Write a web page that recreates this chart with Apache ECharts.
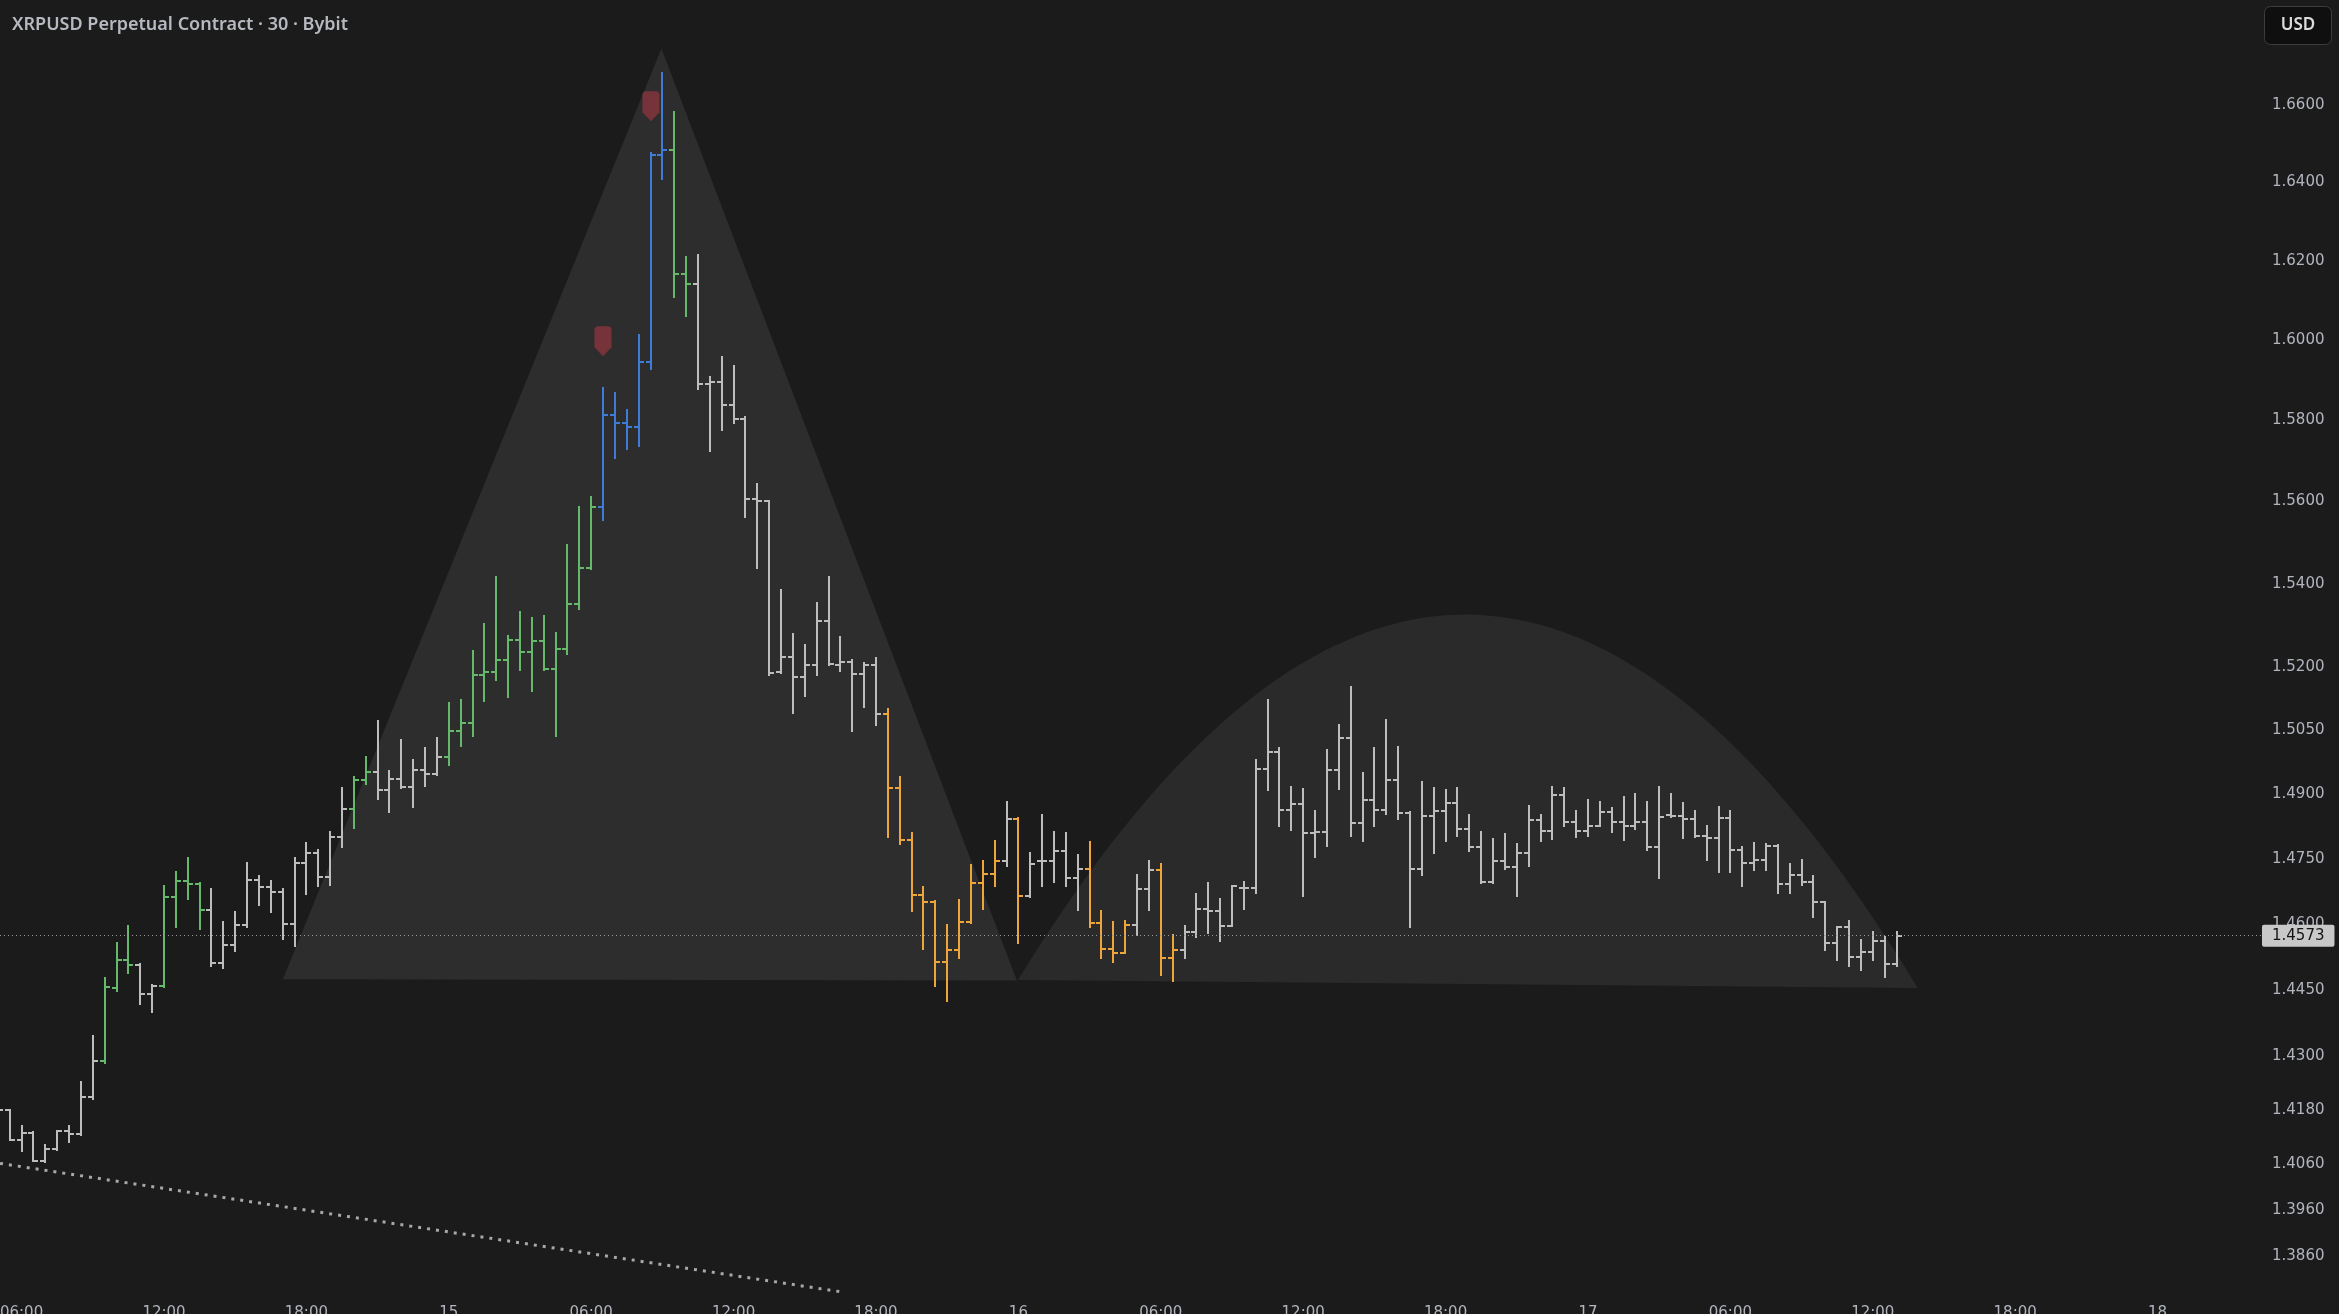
<!DOCTYPE html>
<html>
<head>
<meta charset="utf-8">
<script src="https://cdn.jsdelivr.net/npm/echarts@6/dist/echarts.min.js"></script>
<style>
html,body{margin:0;padding:0;background:#1b1b1b;}
#chart{width:2339px;height:1314px;}
</style>
</head>
<body>
<div id="chart"></div>
<script>
// ---- 30-minute bars, bar index = half-hours since 14th 00:00 ----
const firstBarIndex = 10;
const openPrices = [
1.4158,1.4180,1.4114,1.4130,1.4068,1.4093,1.4134,1.4127,1.4209,1.4290,
1.4454,1.4518,1.4506,1.4441,1.4459,1.4661,1.4699,1.4692,1.4632,1.4510,
1.4552,1.4598,1.4701,1.4684,1.4674,1.4599,1.4740,1.4763,1.4707,1.4801,
1.4865,1.4933,1.4953,1.4911,1.4935,1.4918,1.4957,1.4948,1.4988,1.5049,
1.5067,1.5181,1.5188,1.5217,1.5265,1.5235,1.5263,1.5195,1.5243,1.5351,
1.5438,1.5586,1.5813,1.5792,1.5783,1.5946,1.6471,1.6484,1.6166,1.6140,
1.5890,1.5896,1.5838,1.5802,1.5605,1.5600,1.5189,1.5224,1.5176,1.5205,
1.5310,1.5205,1.5211,1.5184,1.5205,1.5088,1.4915,1.4793,1.4667,1.4651,
1.4514,1.4540,1.4605,1.4694,1.4714,1.4745,1.4842,1.4663,1.4745,1.4745,
1.4768,1.4705,1.4726,1.4603,1.4542,1.4534,1.4598,1.4680,1.4723,1.4523,
1.4541,1.4581,1.4634,1.4630,1.4596,1.4683,1.4683,1.4958,1.4998,1.4863,
1.4877,1.4809,1.4811,1.4956,1.5031,1.4834,1.4886,1.4863,1.4933,1.4856,
1.4726,1.4849,1.4861,1.4879,1.4818,1.4777,1.4696,1.4744,1.4730,1.4763,
1.4839,1.4814,1.4898,1.4836,1.4815,1.4826,1.4858,1.4836,1.4826,1.4835,
1.4777,1.4852,1.4850,1.4842,1.4803,1.4798,1.4845,1.4770,1.4740,1.4746,
1.4780,1.4692,1.4713,1.4697,1.4650,1.4557,1.4594,1.4525,1.4535,1.4560,
1.4509];
const highPrices = [
1.4189,1.4181,1.4145,1.4132,1.4103,1.4134,1.4145,1.4243,1.4346,1.4476,
1.4556,1.4595,1.4509,1.4461,1.4686,1.4719,1.4751,1.4694,1.4680,1.4605,
1.4627,1.4740,1.4710,1.4699,1.4680,1.4751,1.4786,1.4770,1.4813,1.4914,
1.4941,1.4987,1.5073,1.4955,1.5027,1.4980,1.5008,1.5033,1.5115,1.5122,
1.5239,1.5303,1.5416,1.5274,1.5332,1.5318,1.5322,1.5281,1.5494,1.5586,
1.5612,1.5879,1.5867,1.5825,1.6013,1.6475,1.6684,1.6581,1.6209,1.6215,
1.5907,1.5957,1.5935,1.5809,1.5642,1.5602,1.5385,1.5280,1.5253,1.5354,
1.5416,1.5271,1.5217,1.5210,1.5222,1.5101,1.4940,1.4809,1.4685,1.4652,
1.4598,1.4655,1.4736,1.4745,1.4791,1.4881,1.4844,1.4763,1.4852,1.4812,
1.4809,1.4759,1.4788,1.4630,1.4604,1.4607,1.4713,1.4745,1.4737,1.4575,
1.4595,1.4669,1.4694,1.4657,1.4688,1.4696,1.4980,1.5122,1.5008,1.4918,
1.4912,1.4861,1.5004,1.5063,1.5152,1.4949,1.5008,1.5075,1.5010,1.4858,
1.4929,1.4914,1.4910,1.4914,1.4852,1.4812,1.4796,1.4807,1.4784,1.4873,
1.4852,1.4916,1.4914,1.4861,1.4887,1.4881,1.4869,1.4893,1.4901,1.4881,
1.4916,1.4901,1.4879,1.4861,1.4825,1.4870,1.4861,1.4777,1.4786,1.4783,
1.4781,1.4738,1.4747,1.4711,1.4651,1.4594,1.4607,1.4563,1.4581,1.4571,
1.4582];
const lowPrices = [
1.4140,1.4114,1.4090,1.4068,1.4066,1.4092,1.4110,1.4125,1.4204,1.4286,
1.4448,1.4489,1.4417,1.4399,1.4457,1.4594,1.4657,1.4588,1.4503,1.4499,
1.4539,1.4594,1.4643,1.4628,1.4565,1.4550,1.4668,1.4686,1.4690,1.4778,
1.4821,1.4924,1.4888,1.4859,1.4914,1.4871,1.4919,1.4945,1.4969,1.5014,
1.5037,1.5120,1.5170,1.5130,1.5193,1.5144,1.5193,1.5037,1.5231,1.5339,
1.5435,1.5555,1.5706,1.5728,1.5736,1.5927,1.6408,1.6107,1.6060,1.5877,
1.5725,1.5776,1.5794,1.5563,1.5439,1.5182,1.5187,1.5091,1.5131,1.5182,
1.5205,1.5190,1.5049,1.5106,1.5062,1.4801,1.4783,1.4629,1.4542,1.4458,
1.4425,1.4522,1.4603,1.4634,1.4687,1.4733,1.4556,1.4661,1.4687,1.4697,
1.4687,1.4631,1.4594,1.4522,1.4514,1.4533,1.4575,1.4632,1.4484,1.4469,
1.4523,1.4570,1.4580,1.4562,1.4596,1.4635,1.4672,1.4910,1.4825,1.4817,
1.4665,1.4755,1.4780,1.4912,1.4803,1.4790,1.4827,1.4854,1.4842,1.4594,
1.4713,1.4763,1.4791,1.4803,1.4769,1.4694,1.4695,1.4727,1.4665,1.4733,
1.4791,1.4796,1.4827,1.4801,1.4803,1.4825,1.4813,1.4794,1.4820,1.4770,
1.4706,1.4848,1.4799,1.4801,1.4746,1.4720,1.4720,1.4686,1.4724,1.4723,
1.4672,1.4672,1.4690,1.4617,1.4541,1.4518,1.4503,1.4494,1.4518,1.4480,
1.4505];
const closePrices = [
1.4180,1.4114,1.4130,1.4068,1.4093,1.4134,1.4127,1.4209,1.4290,1.4457,
1.4518,1.4506,1.4441,1.4459,1.4661,1.4699,1.4692,1.4632,1.4510,1.4552,
1.4598,1.4701,1.4684,1.4674,1.4599,1.4740,1.4763,1.4707,1.4801,1.4865,
1.4933,1.4953,1.4911,1.4935,1.4918,1.4957,1.4948,1.4988,1.5049,1.5067,
1.5181,1.5188,1.5217,1.5265,1.5235,1.5263,1.5195,1.5243,1.5351,1.5438,
1.5587,1.5813,1.5792,1.5783,1.5946,1.6471,1.6484,1.6166,1.6140,1.5890,
1.5896,1.5838,1.5802,1.5605,1.5600,1.5187,1.5224,1.5176,1.5205,1.5310,
1.5208,1.5211,1.5184,1.5205,1.5088,1.4915,1.4793,1.4667,1.4651,1.4514,
1.4540,1.4605,1.4694,1.4714,1.4745,1.4842,1.4663,1.4737,1.4745,1.4768,
1.4705,1.4726,1.4603,1.4542,1.4534,1.4598,1.4680,1.4723,1.4523,1.4541,
1.4581,1.4634,1.4630,1.4596,1.4686,1.4683,1.4958,1.4998,1.4863,1.4877,
1.4809,1.4811,1.4956,1.5031,1.4834,1.4886,1.4863,1.4933,1.4856,1.4726,
1.4849,1.4861,1.4879,1.4818,1.4777,1.4696,1.4744,1.4730,1.4763,1.4839,
1.4814,1.4898,1.4836,1.4815,1.4826,1.4858,1.4836,1.4826,1.4835,1.4777,
1.4848,1.4850,1.4842,1.4803,1.4798,1.4845,1.4770,1.4740,1.4746,1.4780,
1.4692,1.4713,1.4697,1.4650,1.4557,1.4594,1.4525,1.4535,1.4560,1.4509,
1.4573];
// bar colour state: w = neutral, g = green, b = blue, o = orange
const barState = (
'wwwwwwwwwggg' + 'wwgggg' + 'wwwwwwwwwwww' + 'gg' + 'wwwwww' + 'ggggggggggggg' +
'bbbbbb' + 'gg' + 'wwwwwwwwwwwwwwww' + 'oooooooooo' + 'w' + 'o' + 'wwwww' + 'oooo' +
'ww' + 'oo' + 'wwwwwwwwwwwwwwwwwwwwwwwwwwwwwwwwwwwwwwwwwwwwwwwwwwwwwwwwwwwwwwwwwwwwwwwwww' + 'o' + 'w' + 'oooo' + 'w'
).split('');
const signalBars = [61, 65];
const lastPrice = 1.4573;

// drawings (bar index, price)
const triangleDrawing = [[34.02, 1.4474], [65.92, 1.6748], [95.87, 1.4471]];
const curveDrawing = [[95.96, 1.4472], [133.87, 1.6240], [171.79, 1.4454]]; // start, control, end
const trendLine = [[10.18, 1.4062], [81.2, 1.3781]];

// axis ticks
const priceTicks = [1.386, 1.396, 1.406, 1.418, 1.430, 1.445, 1.460, 1.475, 1.490, 1.505, 1.520, 1.540, 1.560, 1.580, 1.600, 1.620, 1.640, 1.660];
const timeTicks = [12, 24, 36, 48, 60, 72, 84, 96, 108, 120, 132, 144, 156, 168, 180, 192];
const timeTickLabels = ['06:00','12:00','18:00','15','06:00','12:00','18:00','16','06:00','12:00','18:00','17','06:00','12:00','18:00','18'];

const palette = { w: '#bdbdbd', g: '#66b86b', b: '#3f7bd8', o: '#eea53c' };
const FONT = '"DejaVu Sans", sans-serif';

const bars = openPrices.map((o, k) => [firstBarIndex + k, o, highPrices[k], lowPrices[k], closePrices[k]]);
const signals = signalBars.map(i => [i, highPrices[i - firstBarIndex]]);

const chart = echarts.init(document.getElementById('chart'), null, { renderer: 'canvas' });

function renderBar(params, api) {
  const i = api.value(0);
  const o = api.coord([i, api.value(1)]);
  const h = api.coord([i, api.value(2)]);
  const l = api.coord([i, api.value(3)]);
  const c = api.coord([i, api.value(4)]);
  const x = Math.round(h[0]);
  const col = palette[barState[params.dataIndex]] || palette.w;
  const st = { stroke: col, lineWidth: 2 };
  const yo = Math.round(o[1]), yc = Math.round(c[1]);
  return {
    type: 'group',
    children: [
      { type: 'line', shape: { x1: x, y1: Math.round(h[1]) - 1, x2: x, y2: Math.round(l[1]) + 1 }, style: st },
      { type: 'line', shape: { x1: x - 5, y1: yo, x2: x, y2: yo }, style: st },
      { type: 'line', shape: { x1: x, y1: yc, x2: x + 5, y2: yc }, style: st }
    ]
  };
}

function renderShapes(params, api) {
  const tri = triangleDrawing.map(p => api.coord(p));
  const p0 = api.coord(curveDrawing[0]);
  const cp = api.coord(curveDrawing[1]);
  const p2 = api.coord(curveDrawing[2]);
  const curve = [];
  const N = 80;
  for (let k = 0; k <= N; k++) {
    const t = k / N, u = 1 - t;
    curve.push([u * u * p0[0] + 2 * u * t * cp[0] + t * t * p2[0],
                u * u * p0[1] + 2 * u * t * cp[1] + t * t * p2[1]]);
  }
  return {
    type: 'group',
    children: [
      { type: 'polygon', shape: { points: tri }, style: { fill: '#2d2d2d' } },
      { type: 'polygon', shape: { points: curve }, style: { fill: '#2a2a2a' } }
    ]
  };
}

function renderSignal(params, api) {
  const p = api.coord([api.value(0), api.value(1)]);
  const cx = Math.round(p[0]);
  const tip = p[1] - 32;
  const w = 8.5;
  return {
    type: 'polygon',
    shape: { points: [
      [cx - w, tip - 9], [cx - w, tip - 27], [cx - w + 1, tip - 29.3], [cx - w + 3, tip - 30],
      [cx + w - 3, tip - 30], [cx + w - 1, tip - 29.3], [cx + w, tip - 27], [cx + w, tip - 9], [cx, tip]
    ] },
    style: { fill: '#77333a' }
  };
}

const option = {
  backgroundColor: '#1b1b1b',
  animation: false,
  textStyle: { fontFamily: FONT },
  grid: { left: 0, right: 77, top: 0, bottom: 14, containLabel: false, outerBoundsMode: 'none' },
  xAxis: {
    type: 'value',
    min: 10.18,
    max: 200.8,
    axisLine: { show: false },
    axisTick: { show: false },
    splitLine: { show: false },
    axisLabel: {
      customValues: timeTicks,
      formatter: v => { const k = timeTicks.indexOf(Math.round(v)); return k >= 0 ? timeTickLabels[k] : ''; },
      color: '#b2b5be',
      fontSize: 15,
      fontFamily: FONT,
      margin: 6
    }
  },
  yAxis: {
    type: 'log',
    logBase: 10,
    position: 'right',
    min: 1.3764,
    max: 1.6876,
    axisLine: { show: false },
    axisTick: { show: false },
    splitLine: { show: false },
    axisLabel: {
      customValues: priceTicks,
      formatter: v => Number(v).toFixed(4),
      color: '#b2b5be',
      fontSize: 15,
      fontFamily: FONT,
      margin: 10
    }
  },
  series: [
    {
      type: 'custom',
      name: 'drawings',
      coordinateSystem: 'cartesian2d',
      renderItem: renderShapes,
      data: [[triangleDrawing[0][0], triangleDrawing[0][1]]],
      silent: true,
      clip: true,
      z: 1
    },
    {
      type: 'line',
      name: 'trend',
      data: trendLine,
      showSymbol: false,
      silent: true,
      lineStyle: { color: '#a8a8a8', width: 3, type: [3, 6], cap: 'butt' },
      z: 2,
      markLine: {
        silent: true,
        precision: 4,
        symbol: ['none', 'none'],
        data: [{ yAxis: lastPrice }],
        lineStyle: { color: '#9a9a9a', width: 1, type: [1, 3] },
        label: {
          position: 'end',
          distance: 0,
          formatter: lastPrice.toFixed(4),
          backgroundColor: '#c8c8c8',
          color: '#141414',
          fontSize: 15,
          fontFamily: FONT,
          padding: [4, 10, 3, 10],
          borderRadius: 2
        }
      }
    },
    {
      type: 'custom',
      name: 'XRPUSD',
      coordinateSystem: 'cartesian2d',
      renderItem: renderBar,
      encode: { x: 0, y: [1, 2, 3, 4] },
      data: bars,
      clip: true,
      z: 3
    },
    {
      type: 'custom',
      name: 'signals',
      coordinateSystem: 'cartesian2d',
      renderItem: renderSignal,
      encode: { x: 0, y: 1 },
      data: signals,
      z: 4
    }
  ],
  graphic: [
    {
      type: 'text', left: 12, top: 16, z: 10,
      style: { text: 'XRPUSD Perpetual Contract · 30 · Bybit', fill: '#b7b9c0', font: '600 18px "Noto Sans", sans-serif' }
    },
    {
      type: 'group', left: 2264, top: 6, z: 10,
      children: [
        { type: 'rect', shape: { x: 0, y: 0, width: 67, height: 38, r: 6 }, style: { fill: '#0f0f0f', stroke: '#3d3d3d', lineWidth: 1 } },
        { type: 'text', style: { text: 'USD', x: 33.5, y: 19, align: 'center', verticalAlign: 'middle', fill: '#dcdcdc', font: '600 17px "Noto Sans", sans-serif' } }
      ]
    }
  ]
};

chart.setOption(option);
</script>
</body>
</html>
